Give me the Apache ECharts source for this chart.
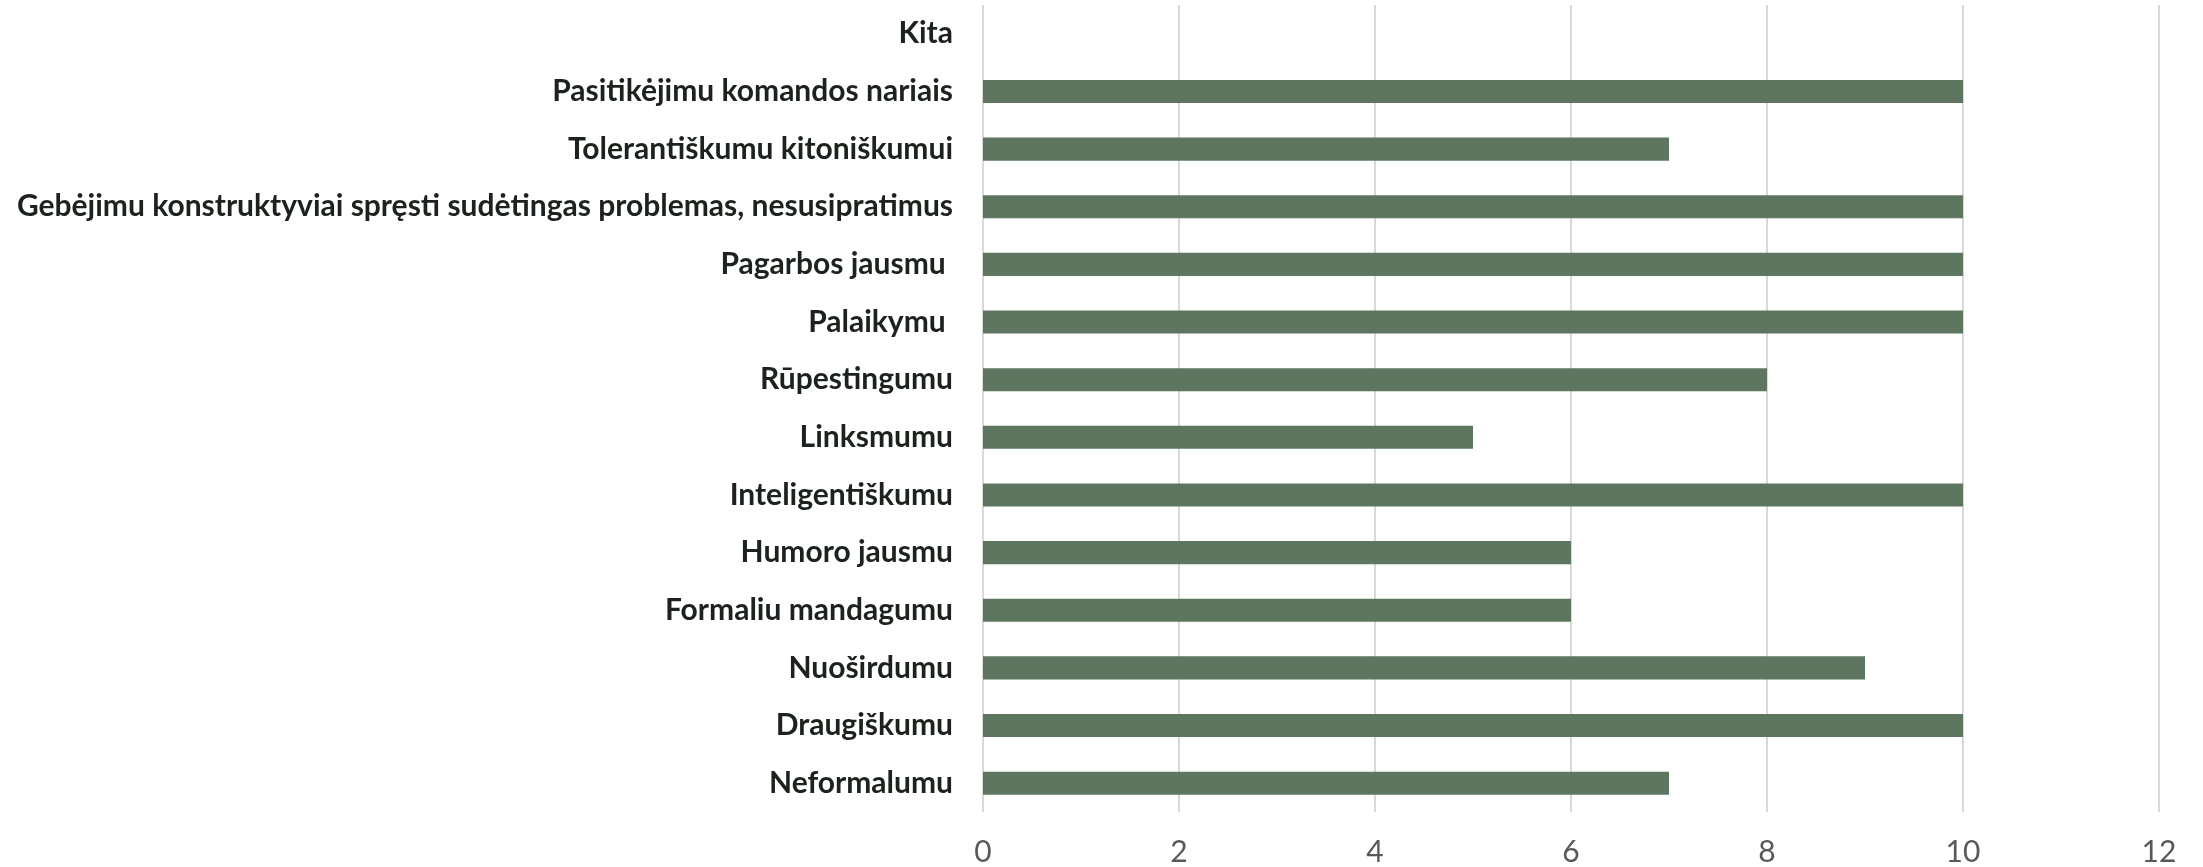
<!DOCTYPE html>
<html><head><meta charset="utf-8">
<script src="https://cdn.jsdelivr.net/npm/echarts@6/dist/echarts.min.js"></script>
<style>html,body{margin:0;padding:0;background:#fff}#c{width:2203px;height:867px}</style>
</head><body><div id="c"></div>
<script>
const categories = [
  "Neformalumu",
  "Draugiškumu",
  "Nuoširdumu",
  "Formaliu mandagumu",
  "Humoro jausmu",
  "Inteligentiškumu",
  "Linksmumu",
  "Rūpestingumu",
  "Palaikymu ",
  "Pagarbos jausmu ",
  "Gebėjimu konstruktyviai spręsti sudėtingas problemas, nesusipratimus",
  "Tolerantiškumu kitoniškumui",
  "Pasitikėjimu komandos nariais",
  "Kita"
];
const values = [7, 10, 9, 6, 6, 10, 5, 8, 10, 10, 10, 7, 10, 0];
const xTicks = { min: 0, max: 12, interval: 2 };

const chart = echarts.init(document.getElementById('c'));
chart.setOption({
  animation: false,
  backgroundColor: '#ffffff',
  grid: { left: 983, right: 44, top: 5, bottom: 54, containLabel: false },
  xAxis: {
    type: 'value', min: xTicks.min, max: xTicks.max, interval: xTicks.interval,
    axisLine: { show: false }, axisTick: { show: false },
    splitLine: { show: true, lineStyle: { color: '#d9d9d9', width: 2 } },
    axisLabel: { color: '#595959', fontFamily: 'Lato', fontSize: 30, margin: 25 }
  },
  yAxis: {
    type: 'category', data: categories,
    axisLine: { show: false }, axisTick: { show: false },
    axisLabel: { color: '#1c221c', fontFamily: 'Lato', fontWeight: 'bold', fontSize: 30, margin: 30 }
  },
  series: [{
    type: 'bar', data: values, barWidth: '40%',
    itemStyle: { color: '#5e765f' }
  }]
});
</script></body></html>
